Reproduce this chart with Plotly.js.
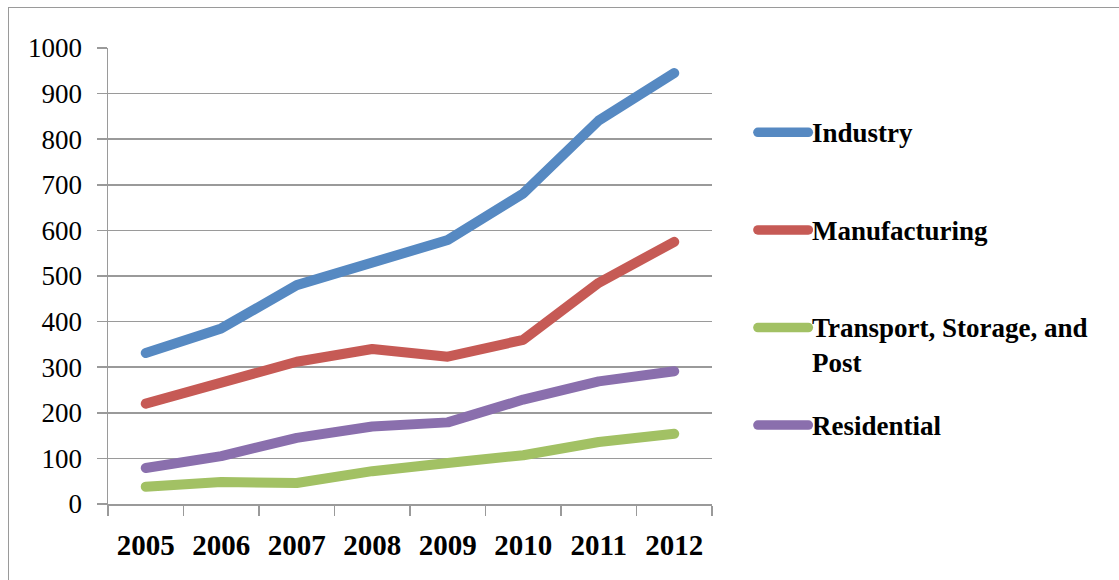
<!DOCTYPE html>
<html>
<head>
<meta charset="utf-8">
<script src="https://cdn.plot.ly/plotly-3.0.1.min.js"></script>
<style>
  html, body { margin: 0; padding: 0; background: #fff; }
  #wrap { position: relative; width: 1119px; height: 580px; overflow: hidden; }
  #chart { width: 1119px; height: 580px; }
  #frame { position: absolute; left: 8px; top: 7px; width: 1300px; height: 800px;
           border: 1.5px solid #9a9a9a; box-sizing: border-box; pointer-events: none; }
  .scatterlayer path.js-line { stroke-linecap: round; stroke-linejoin: round; }
  .shapelayer path { stroke-linecap: round; }
</style>
</head>
<body>
<div id="wrap">
  <div id="chart"></div>
  <div id="frame"></div>
</div>
<script>
const years = ['2005', '2006', '2007', '2008', '2009', '2010', '2011', '2012'];
const seriesNames = ['Industry', 'Manufacturing', 'Transport, Storage, and<br>Post', 'Residential'];
const industry      = [331, 385, 480, 530, 579, 681, 841, 945];
const manufacturing = [220, 264, 312, 340, 323, 360, 485, 575];
const transport     = [38, 48, 46, 72, 90, 107, 136, 154];
const residential   = [79, 105, 145, 170, 179, 229, 269, 291];
const yTicks = [0, 100, 200, 300, 400, 500, 600, 700, 800, 900, 1000];

const seriesValues = [industry, manufacturing, transport, residential];
const colors = ['#5689C2', '#C65A55', '#A2C164', '#8A6FAD'];

const traces = seriesValues.map((vals, i) => ({
  type: 'scatter',
  mode: 'lines',
  x: years,
  y: vals,
  name: seriesNames[i],
  line: { color: colors[i], width: 10 },
  showlegend: false,
  hoverinfo: 'skip'
}));

// Custom legend (shapes + text) placed to the right of the plot
const legendY = [0.815, 0.601, 0.387, 0.173]; // paper fractions of plot height
const shapes = [];
const annotations = [];
legendY.forEach((yy, i) => {
  shapes.push({
    type: 'line', xref: 'paper', yref: 'paper',
    x0: 1.076, x1: 1.1595, y0: yy, y1: yy,
    line: { color: colors[i], width: 9.5 }
  });
  annotations.push({
    xref: 'paper', yref: 'paper', x: 1.163, y: yy + 0.036,
    xanchor: 'left', yanchor: 'top', align: 'left',
    showarrow: false, text: seriesNames[i],
    font: { family: 'Liberation Serif, serif', size: 27, color: '#000', weight: 'bold' }
  });
});

const layout = {
  width: 1119, height: 580,
  margin: { l: 108, r: 407, t: 47.5, b: 75.5, pad: 0 },
  paper_bgcolor: '#fff', plot_bgcolor: '#fff',
  showlegend: false,
  xaxis: {
    type: 'category',
    range: [-0.5, 7.5],
    showgrid: false,
    showline: true, linecolor: '#9a9a9a', linewidth: 1.5,
    ticks: 'outside', tickson: 'boundaries', ticklen: 10, tickcolor: '#9a9a9a', tickwidth: 1.5,
    tickfont: { family: 'Liberation Serif, serif', size: 29, color: '#000', weight: 'bold' },
    ticklabelstandoff: 15,
    automargin: false, fixedrange: true
  },
  yaxis: {
    range: [0, 1000],
    tickvals: yTicks,
    ticktext: yTicks.map(String),
    showgrid: true, gridcolor: '#9a9a9a', gridwidth: 1.5,
    showline: true, linecolor: '#9a9a9a', linewidth: 1.5,
    zeroline: false,
    ticks: 'outside', ticklen: 10, tickcolor: '#9a9a9a', tickwidth: 1.5,
    tickfont: { family: 'Liberation Serif, serif', size: 27, color: '#000' },
    ticklabelstandoff: 9,
    automargin: false, fixedrange: true
  },
  shapes: shapes,
  annotations: annotations
};

Plotly.newPlot('chart', traces, layout, { staticPlot: true, displayModeBar: false });
</script>
</body>
</html>
